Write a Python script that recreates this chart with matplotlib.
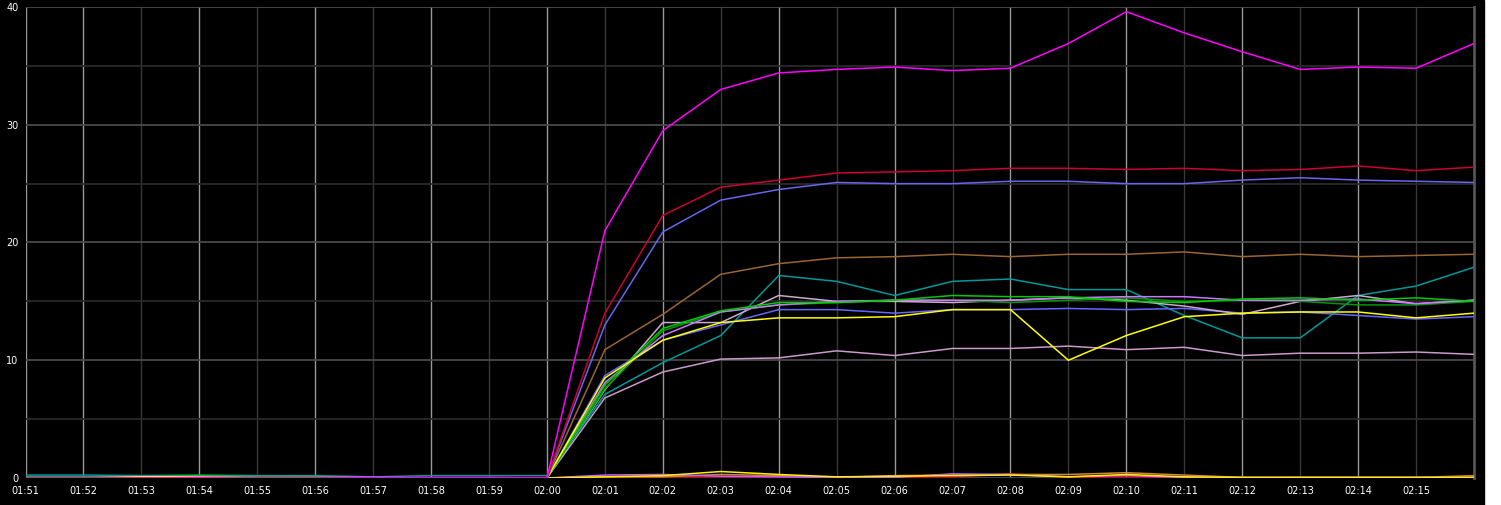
import matplotlib
matplotlib.use('Agg')
import matplotlib.pyplot as plt
from matplotlib.patches import Rectangle

# time axis, one sample per minute
times = ['01:51', '01:52', '01:53', '01:54', '01:55', '01:56', '01:57', '01:58', '01:59', '02:00',
         '02:01', '02:02', '02:03', '02:04', '02:05', '02:06', '02:07', '02:08', '02:09', '02:10',
         '02:11', '02:12', '02:13', '02:14', '02:15', '02:16']
tick_labels = times[:-1]

# main series
magenta = [0.0, 0.0, 0.0, 0.05, 0.0, 0.0, 0.0, 0.0, 0.0, 0.0,
           21.0, 29.5, 33.0, 34.4, 34.7, 34.9, 34.6, 34.8, 36.9, 39.6,
           37.8, 36.2, 34.7, 34.9, 34.8, 36.9]
crimson = [0.0, 0.0, 0.0, 0.0, 0.0, 0.0, 0.0, 0.0, 0.0, 0.0,
           14.0, 22.3, 24.7, 25.3, 25.9, 26.0, 26.1, 26.3, 26.3, 26.2,
           26.3, 26.1, 26.2, 26.5, 26.1, 26.4]
blue_hi = [0.0, 0.0, 0.0, 0.0, 0.0, 0.0, 0.0, 0.0, 0.0, 0.0,
           13.0, 20.9, 23.6, 24.5, 25.1, 25.0, 25.0, 25.2, 25.2, 25.0,
           25.0, 25.3, 25.5, 25.3, 25.2, 25.1]
brown = [0.0, 0.0, 0.0, 0.0, 0.0, 0.0, 0.0, 0.0, 0.0, 0.0,
         10.9, 13.9, 17.3, 18.2, 18.7, 18.8, 19.0, 18.8, 19.0, 19.0,
         19.2, 18.8, 19.0, 18.8, 18.9, 19.0]
teal = [0.25, 0.25, 0.2, 0.25, 0.2, 0.2, 0.1, 0.2, 0.2, 0.2,
        7.1, 9.8, 12.1, 17.2, 16.7, 15.5, 16.7, 16.9, 16.0, 16.0,
        13.8, 11.9, 11.9, 15.5, 16.3, 17.9]
pink_lo = [0.0, 0.0, 0.0, 0.0, 0.0, 0.0, 0.0, 0.0, 0.0, 0.0,
           6.8, 9.0, 10.1, 10.2, 10.8, 10.4, 11.0, 11.0, 11.2, 10.9,
           11.1, 10.4, 10.6, 10.6, 10.7, 10.5]
yellow = [0.0, 0.0, 0.1, 0.1, 0.0, 0.0, 0.0, 0.0, 0.0, 0.0,
          8.5, 11.7, 13.2, 13.6, 13.6, 13.7, 14.3, 14.3, 10.0, 12.1,
          13.7, 14.0, 14.1, 14.1, 13.6, 14.0]
blue_lo = [0.0, 0.0, 0.0, 0.0, 0.0, 0.05, 0.05, 0.05, 0.05, 0.0,
           8.7, 11.7, 13.0, 14.3, 14.3, 14.0, 14.3, 14.3, 14.4, 14.3,
           14.4, 14.0, 14.1, 13.8, 13.5, 13.7]
green = [0.1, 0.1, 0.1, 0.2, 0.1, 0.1, 0.0, 0.0, 0.0, 0.0,
         7.9, 12.7, 14.2, 14.9, 14.9, 15.1, 15.5, 15.4, 15.4, 15.0,
         14.9, 15.2, 15.3, 15.1, 15.3, 15.0]
dkgreen = [0.0, 0.0, 0.0, 0.0, 0.0, 0.0, 0.0, 0.0, 0.0, 0.0,
           7.6, 12.5, 14.1, 14.7, 14.9, 15.1, 15.1, 14.9, 15.1, 15.3,
           15.0, 15.1, 15.0, 14.7, 14.7, 15.0]
violet = [0.0, 0.0, 0.0, 0.0, 0.0, 0.1, 0.05, 0.0, 0.0, 0.0,
          8.1, 12.1, 14.1, 14.7, 15.0, 15.1, 15.1, 15.1, 15.3, 15.4,
          15.4, 15.1, 15.1, 15.2, 14.8, 15.1]
pink_hi = [0.0, 0.0, 0.0, 0.0, 0.0, 0.0, 0.0, 0.0, 0.0, 0.0,
           7.5, 13.2, 13.2, 15.5, 15.0, 15.0, 14.9, 15.1, 15.3, 15.1,
           14.6, 13.9, 15.0, 15.5, 14.8, 15.1]

# near-zero series
low_yellow = [0.0, 0.0, 0.0, 0.0, 0.0, 0.0, 0.0, 0.0, 0.0, 0.0,
              0.1, 0.2, 0.55, 0.3, 0.1, 0.15, 0.2, 0.25, 0.1, 0.3,
              0.1, 0.05, 0.05, 0.05, 0.05, 0.05]
low_orange = [0.0, 0.0, 0.0, 0.0, 0.0, 0.0, 0.0, 0.0, 0.0, 0.0,
              0.1, 0.1, 0.3, 0.2, 0.05, 0.2, 0.25, 0.3, 0.3, 0.45,
              0.25, 0.05, 0.05, 0.05, 0.05, 0.2]
low_violet = [0.0, 0.0, 0.0, 0.0, 0.0, 0.0, 0.0, 0.0, 0.0, 0.0,
              0.25, 0.3, 0.15, 0.1, 0.05, 0.05, 0.35, 0.3, 0.1, 0.2,
              0.05, 0.05, 0.05, 0.05, 0.05, 0.05]
low_red = [0.0, 0.0, 0.0, 0.0, 0.0, 0.0, 0.0, 0.0, 0.0, 0.0,
           0.05, 0.1, 0.1, 0.05, 0.0, 0.05, 0.1, 0.35, 0.05, 0.05,
           0.0, 0.0, 0.05, 0.05, 0.05, 0.05]

series = [
    (low_red, '#cc0000'),
    (low_orange, '#cc8833'),
    (low_violet, '#bb66ff'),
    (low_yellow, '#ffee00'),
    (pink_lo, '#cc99cc'),
    (teal, '#009999'),
    (blue_lo, '#6666ff'),
    (pink_hi, '#ccaacc'),
    (dkgreen, '#009900'),
    (violet, '#cc77ff'),
    (green, '#00cc00'),
    (yellow, '#ffff00'),
    (brown, '#996633'),
    (blue_hi, '#6666ee'),
    (crimson, '#cc0033'),
    (magenta, '#ff00ff'),
]

fig = plt.figure(figsize=(15.01, 5.05), dpi=100, facecolor='white')
fig.patches.append(Rectangle((0, 0), 1484 / 1501, 1, transform=fig.transFigure,
                             color='black', zorder=-10))
ax = fig.add_axes([25.5 / 1501, 1 - 478 / 505, (1474 - 25.5) / 1501, (478 - 7) / 505])
ax.set_facecolor('black')

x = list(range(len(times)))

# grid: even minutes brighter than odd minutes
for i, t in enumerate(times[:-1]):
    bright = int(t[-1]) % 2 == 0 or i == 0
    ax.axvline(i, color='#999999' if bright else '#383838', lw=1.0, zorder=0)

ax.set_yticks([0, 10, 20, 30, 40])
ax.set_yticks([5, 15, 25, 35], minor=True)
ax.yaxis.grid(True, which='major', color='#4a4a4a', lw=1.3, zorder=0)
ax.yaxis.grid(True, which='minor', color='#2a2a2a', lw=1.3, zorder=0)
ax.set_axisbelow(True)

for vals, col in series:
    ax.plot(x, vals, color=col, lw=1.1, zorder=3)

ax.set_xlim(0, len(times) - 1)
ax.set_ylim(0, 40)
ax.set_xticks(range(len(tick_labels)))
ax.set_xticklabels(tick_labels)

ax.tick_params(axis='both', which='both', length=0, colors='white', labelsize=7)
ax.tick_params(axis='x', pad=6)
ax.tick_params(axis='y', pad=5)

for side in ['top', 'bottom', 'left']:
    ax.spines[side].set_visible(False)
ax.spines['right'].set_color('#555555')
ax.spines['right'].set_linewidth(2)

fig.savefig('out.png', dpi=100, facecolor=fig.get_facecolor())
